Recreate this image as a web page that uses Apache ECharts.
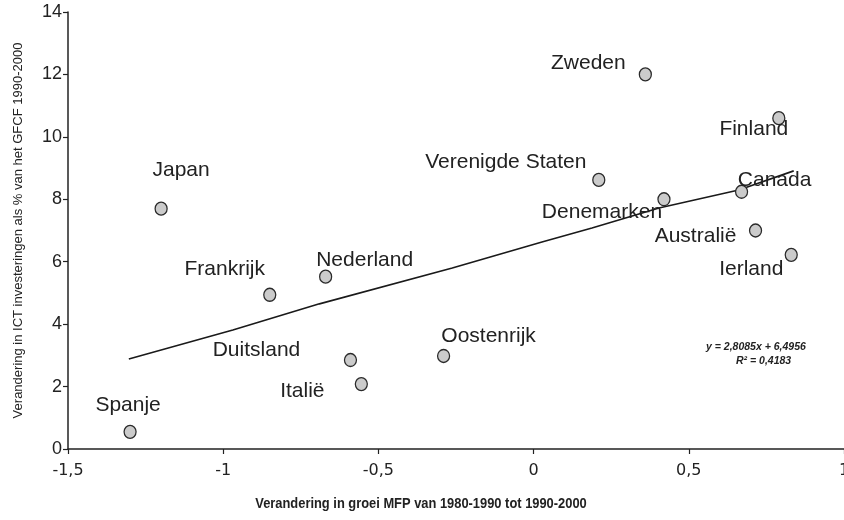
<!DOCTYPE html>
<html>
<head>
<meta charset="utf-8">
<script src="https://cdn.jsdelivr.net/npm/echarts@6/dist/echarts.min.js"></script>
<style>
  html, body { margin: 0; padding: 0; background: #fff; }
  #chart { width: 844px; height: 520px; }
</style>
</head>
<body>
<div id="chart"></div>
<script>
// landen en waarden
const countries = ["Spanje", "Japan", "Frankrijk", "Nederland", "Duitsland", "Italië", "Oostenrijk",
  "Verenigde Staten", "Zweden", "Denemarken", "Canada", "Finland", "Australië", "Ierland"];
const mfpGrowth = [-1.30, -1.20, -0.85, -0.67, -0.59, -0.555, -0.29, 0.21, 0.36, 0.42, 0.67, 0.79, 0.715, 0.83];
const ictShare = [0.55, 7.7, 4.94, 5.52, 2.85, 2.08, 2.98, 8.62, 12.0, 8.0, 8.24, 10.6, 7.0, 6.22];

// trendlijn zoals getekend
const trendX = [-1.304, -0.969, -0.690, -0.262, 0.027, 0.188, 0.404, 0.661, 0.838];
const trendY = [2.88, 3.81, 4.65, 5.80, 6.63, 7.08, 7.72, 8.30, 8.91];

const equationLines = ["y = 2,8085x + 6,4956", "R² = 0,4183"];

// label offsets per land [dx, dy]
const labelOffset = {
  "Spanje": [-2, -27], "Japan": [20, -38], "Frankrijk": [-45, -26], "Nederland": [39, -16],
  "Duitsland": [-94, -10], "Italië": [-59, 7], "Oostenrijk": [45, -20],
  "Verenigde Staten": [-93, -18], "Zweden": [-57, -11], "Denemarken": [-62, 13],
  "Canada": [33, -12], "Finland": [-25, 11], "Australië": [-60, 6], "Ierland": [-40, 14]
};

const chart = echarts.init(document.getElementById("chart"));

const points = countries.map((name, i) => ({
  name: name,
  value: [mfpGrowth[i], ictShare[i]]
}));

const option = {
  animation: false,
  grid: { left: 68, right: 0, top: 12, bottom: 71, containLabel: false, outerBoundsMode: "none" },
  xAxis: {
    type: "value",
    min: -1.5,
    max: 1,
    interval: 0.5,
    splitLine: { show: false },
    axisLine: { show: true, onZero: false, lineStyle: { color: "#222", width: 1.5 } },
    axisTick: { show: true, length: 5, lineStyle: { color: "#222", width: 1.2 } },
    axisLabel: {
      color: "#222",
      fontFamily: "DejaVu Sans, sans-serif",
      fontSize: 16,
      margin: 14,
      formatter: (v) => String(v).replace(".", ",")
    }
  },
  yAxis: {
    type: "value",
    min: 0,
    max: 14,
    interval: 2,
    splitLine: { show: false },
    axisLine: { show: true, onZero: false, lineStyle: { color: "#222", width: 1.5 } },
    axisTick: { show: true, length: 5, lineStyle: { color: "#222", width: 1.2 } },
    axisLabel: { color: "#222", fontFamily: "Liberation Sans, Arial, sans-serif", fontSize: 18, margin: 6 },
    name: "Verandering in ICT investeringen als % van het GFCF 1990-2000",
    nameLocation: "middle",
    nameRotate: 90,
    nameGap: 43,
    nameTextStyle: { color: "#222", fontFamily: "Liberation Sans, Arial, sans-serif", fontSize: 13 }
  },
  graphic: [
    {
      type: "text",
      x: 421,
      y: 497,
      scaleX: 0.92,
      style: {
        text: "Verandering in groei MFP van 1980-1990 tot 1990-2000",
        fill: "#222",
        font: "bold 14px 'Liberation Sans', Arial, sans-serif",
        textAlign: "center"
      }
    },
    {
      type: "text",
      x: 706,
      y: 342,
      style: {
        text: equationLines[0],
        fill: "#222",
        font: "italic bold 10.5px 'Liberation Sans', Arial, sans-serif"
      }
    },
    {
      type: "text",
      x: 736,
      y: 356,
      style: {
        text: equationLines[1],
        fill: "#222",
        font: "italic bold 10.5px 'Liberation Sans', Arial, sans-serif"
      }
    }
  ],
  series: [
    {
      type: "line",
      data: trendX.map((x, i) => [x, trendY[i]]),
      symbol: "none",
      lineStyle: { color: "#1a1a1a", width: 1.6 },
      z: 1
    },
    {
      type: "scatter",
      data: points,
      symbol: "circle",
      symbolSize: [12, 13],
      itemStyle: { color: "#cbcbcb", borderColor: "#2a2a2a", borderWidth: 1.3, opacity: 1 },
      label: {
        show: true,
        position: "inside",
        formatter: "{b}",
        color: "#222",
        fontFamily: "Liberation Sans, Arial, sans-serif",
        fontSize: 21
      },
      labelLayout: (params) => {
        const off = labelOffset[countries[params.dataIndex]];
        return { dx: off[0], dy: off[1], hideOverlap: false };
      },
      z: 3
    }
  ]
};

chart.setOption(option);
</script>
</body>
</html>
